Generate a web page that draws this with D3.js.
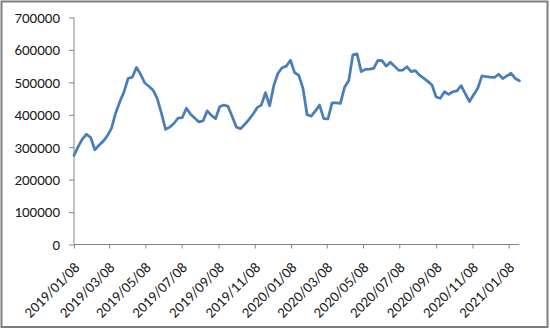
<!DOCTYPE html>
<html><head><meta charset="utf-8">
<script src="https://cdn.jsdelivr.net/npm/d3@7"></script>
<style>
html,body{margin:0;padding:0;background:#fff;}
svg{display:block;}
</style></head>
<body>
<svg id="chart" width="550" height="329"></svg>
<script>
const dates = [
"2019/01/08","2019/01/15","2019/01/22","2019/01/29","2019/02/05","2019/02/12","2019/02/19","2019/02/26",
"2019/03/05","2019/03/12","2019/03/19","2019/03/26","2019/04/02","2019/04/09","2019/04/16","2019/04/23",
"2019/04/30","2019/05/07","2019/05/14","2019/05/21","2019/05/28","2019/06/04","2019/06/11","2019/06/18",
"2019/06/25","2019/07/02","2019/07/09","2019/07/16","2019/07/23","2019/07/30","2019/08/06","2019/08/13",
"2019/08/20","2019/08/27","2019/09/03","2019/09/10","2019/09/17","2019/09/24","2019/10/01","2019/10/08",
"2019/10/15","2019/10/22","2019/10/29","2019/11/05","2019/11/12","2019/11/19","2019/11/26","2019/12/03",
"2019/12/10","2019/12/17","2019/12/24","2019/12/31","2020/01/07","2020/01/14","2020/01/21","2020/01/28",
"2020/02/04","2020/02/11","2020/02/18","2020/02/25","2020/03/03","2020/03/10","2020/03/17","2020/03/24",
"2020/03/31","2020/04/07","2020/04/14","2020/04/21","2020/04/28","2020/05/05","2020/05/12","2020/05/19",
"2020/05/26","2020/06/02","2020/06/09","2020/06/16","2020/06/23","2020/06/30","2020/07/07","2020/07/14",
"2020/07/21","2020/07/28","2020/08/04","2020/08/11","2020/08/18","2020/08/25","2020/09/01","2020/09/08",
"2020/09/15","2020/09/22","2020/09/29","2020/10/06","2020/10/13","2020/10/20","2020/10/27","2020/11/03",
"2020/11/10","2020/11/17","2020/11/24","2020/12/01","2020/12/08","2020/12/15","2020/12/22","2020/12/29",
"2021/01/05","2021/01/12","2021/01/19","2021/01/26"];

const values = [
275000,302000,325000,340000,330000,292000,306000,318000,
335000,358000,405000,440000,470000,512000,516000,546000,
525000,498000,488000,476000,450000,405000,355000,362000,
373000,390000,391000,420000,402000,390000,378000,381000,
412000,398000,388000,425000,430000,426000,395000,362000,
357000,370000,385000,402000,422000,430000,468000,428000,
490000,528000,545000,550000,568000,530000,522000,482000,
400000,396000,412000,430000,388000,387000,437000,437000,
435000,485000,505000,585000,588000,533000,540000,541000,
543000,568000,567000,550000,562000,550000,537000,538000,
548000,533000,536000,522000,513000,503000,492000,455000,
451000,471000,463000,471000,474000,490000,465000,441000,
462000,482000,520000,518000,516000,515000,525000,512000,
520000,528000,512000,505000];

const xTickLabels = ["2019/01/08","2019/03/08","2019/05/08","2019/07/08","2019/09/08","2019/11/08",
"2020/01/08","2020/03/08","2020/05/08","2020/07/08","2020/09/08","2020/11/08","2021/01/08"];
const yTicks = [0,100000,200000,300000,400000,500000,600000,700000];

const parse = d3.timeParse("%Y/%m/%d");
const data = dates.map((d,i)=>({date:parse(d), value:values[i]}));

const svg = d3.select("#chart");
const font = "Calibri, Carlito, Lato, 'Open Sans', sans-serif";

// chart area border
svg.append("rect").attr("x",1.5).attr("y",1.5).attr("width",546).attr("height",325.5)
  .attr("fill","#fff").attr("stroke","#7f7f7f").attr("stroke-width",2);

const x = d3.scaleTime().domain([parse("2019/01/08"), parse("2021/01/26")]).range([74, 519.4]);
const y = d3.scaleLinear().domain([0,700000]).range([244.5, 17.5]);

const yAxis = d3.axisLeft(y).tickValues(yTicks).tickSize(5).tickPadding(9).tickFormat(d=>String(d));
const gy = svg.append("g").attr("transform","translate(74,0)").call(yAxis);
gy.select(".domain").attr("stroke","#868686").attr("d","M0,17.5V244.5");
gy.selectAll(".tick line").attr("stroke","#868686");
gy.selectAll(".tick text").attr("fill","#1a1a1a").style("font-family",font).style("font-size","15px");

const xAxis = d3.axisBottom(x).tickValues(xTickLabels.map(parse)).tickSize(4).tickFormat(d3.timeFormat("%Y/%m/%d"));
const gx = svg.append("g").attr("transform","translate(0,244.5)").call(xAxis);
gx.select(".domain").attr("stroke","#868686").attr("d","M74,0H519.4");
gx.selectAll(".tick line").attr("stroke","#868686");
gx.selectAll(".tick text").attr("fill","#1a1a1a").style("font-family",font).style("font-size","14.7px")
  .attr("text-anchor","end").attr("dy",null).attr("y",0)
  .attr("transform","translate(6,24) rotate(-45)");

const line = d3.line().x(d=>x(d.date)).y(d=>y(d.value));
svg.append("path").datum(data).attr("d",line).attr("fill","none")
  .attr("stroke","#4A7EBB").attr("stroke-width",2.75).attr("stroke-linejoin","round").attr("stroke-linecap","round");
</script>
</body></html>
